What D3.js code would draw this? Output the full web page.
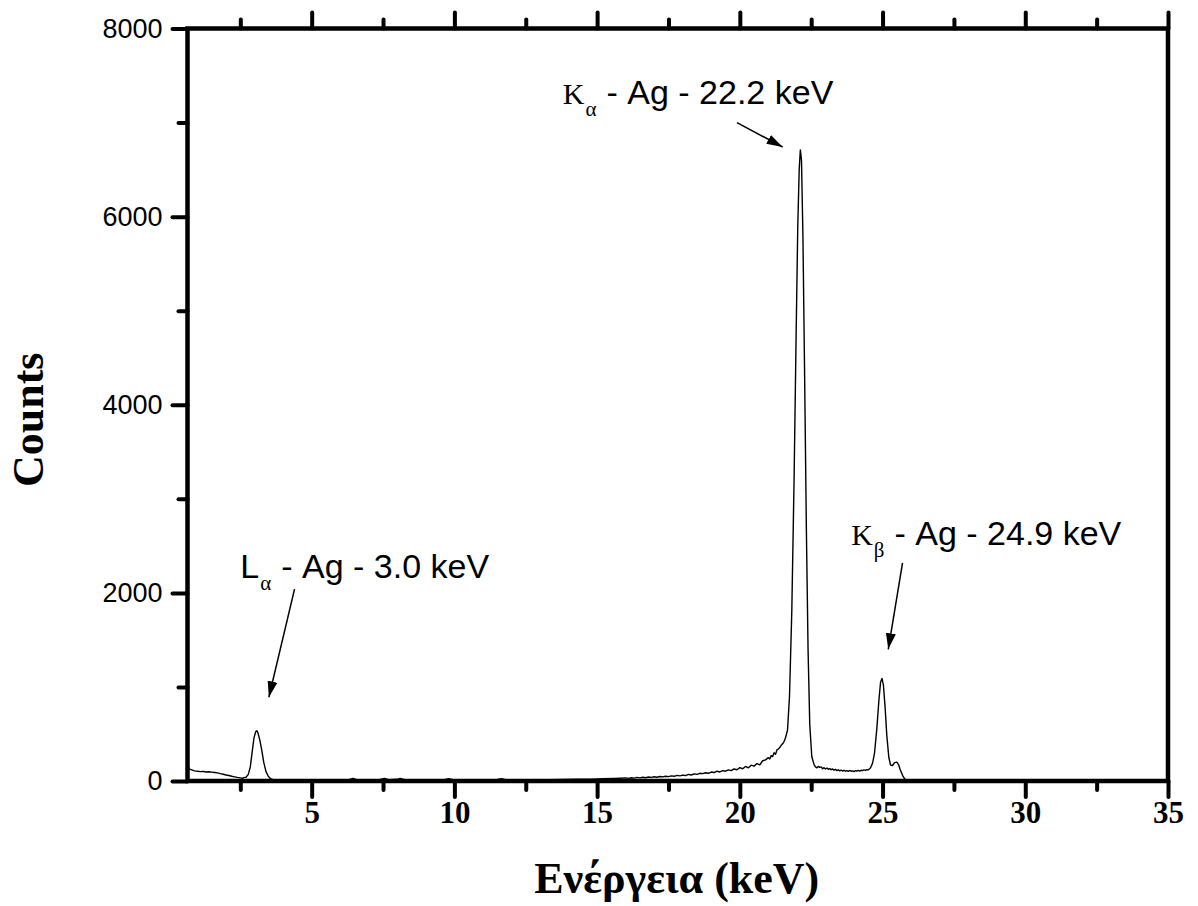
<!DOCTYPE html>
<html>
<head>
<meta charset="utf-8">
<script src="https://cdn.jsdelivr.net/npm/d3@7"></script>
<style>
  html, body { margin: 0; padding: 0; background: #ffffff; }
  svg { display: block; }
</style>
</head>
<body>
<svg id="chart" width="1198" height="906"></svg>
<script>
// XRF spectrum of silver: energy (keV) and detector counts, row by row
const energyKeV = [
  0.68, 0.7, 0.8, 0.9, 1.0, 1.1, 1.2, 1.3, 1.4, 1.5, 1.6, 1.7, 1.8, 1.9, 2.0, 2.1, 2.2, 2.3, 2.4, 2.5,
  2.58, 2.62, 2.7, 2.78, 2.85, 2.92, 2.98, 3.04, 3.08, 3.12, 3.18, 3.25, 3.32, 3.4, 3.48, 3.56, 3.65,
  3.8, 4.2, 4.6, 5.0, 5.5, 6.0, 6.3, 6.45, 6.6, 7.0, 7.4, 7.55, 7.7, 8.0, 8.1, 8.3, 8.7, 9.2, 9.6, 9.8,
  10.0, 10.5, 11.0, 11.5, 11.65, 11.8, 12.3, 12.8, 13.3, 13.8, 14.3, 14.8, 15.2, 15.6, 15.8,
  16.0, 16.1, 16.2, 16.3, 16.4, 16.5, 16.6, 16.7, 16.8, 16.9,
  17.0, 17.1, 17.2, 17.3, 17.4, 17.5, 17.6, 17.7, 17.8, 17.9,
  18.0, 18.1, 18.2, 18.3, 18.4, 18.5, 18.6, 18.7, 18.8, 18.9,
  19.0, 19.1, 19.2, 19.3, 19.4, 19.5, 19.6, 19.7, 19.8, 19.9,
  20.0, 20.1, 20.2, 20.3, 20.4, 20.5, 20.6, 20.7, 20.8, 20.9,
  21.0, 21.05, 21.1, 21.15, 21.2, 21.25, 21.3, 21.35, 21.4, 21.45, 21.5, 21.55, 21.6,
  21.67, 21.74, 21.82, 21.9, 21.97, 22.03, 22.08, 22.12, 22.16, 22.21, 22.27, 22.33, 22.39, 22.45, 22.52,
  22.6, 22.65, 22.7, 22.75, 22.8, 22.85, 22.9, 22.95, 23.0, 23.05, 23.1, 23.15, 23.2, 23.25, 23.3, 23.35, 23.4, 23.45, 23.5, 23.55,
  23.6, 23.65, 23.7, 23.75, 23.8, 23.85, 23.9, 23.95, 24.0, 24.05, 24.1, 24.15, 24.2, 24.25, 24.3, 24.35, 24.4, 24.45, 24.5,
  24.58, 24.65, 24.72, 24.8, 24.87, 24.93, 24.98, 25.03, 25.09, 25.15, 25.22, 25.28, 25.35, 25.42, 25.5, 25.56, 25.62, 25.7, 25.78, 25.85
];
const counts = [
  160, 128, 118, 108, 104, 100, 102, 96, 98, 94, 90, 86, 78, 72, 64, 58, 50, 44, 38, 33,
  28, 36, 40, 70, 150, 320, 460, 525, 535, 510, 440, 330, 200, 100, 50, 25, 14,
  12, 10, 9, 10, 9, 10, 13, 28, 12, 10, 16, 28, 13, 18, 27, 12, 10, 10, 12, 24,
  11, 10, 12, 17, 25, 13, 12, 13, 14, 16, 18, 20, 24, 28, 30,
  33, 28, 35, 31, 38, 33, 40, 35, 42, 38,
  45, 40, 48, 44, 50, 46, 55, 50, 60, 54,
  63, 58, 70, 64, 76, 70, 82, 78, 88, 82,
  95, 90, 104, 96, 110, 104, 118, 110, 128, 120,
  142, 130, 155, 140, 168, 158, 185, 172, 215, 225,
  248, 235, 270, 260, 300, 285, 330, 340, 355, 380, 395, 420, 460,
  540, 900, 1800, 3200, 4700, 5900, 6500, 6710, 6600, 5800, 4300, 2700, 1400, 600, 260,
  175, 150, 140, 155, 145, 150, 130, 142, 128, 138, 125, 132, 120, 128, 115, 124, 110, 120, 108, 116,
  106, 114, 104, 110, 102, 112, 104, 108, 100, 110, 104, 112, 106, 114, 110, 118, 112, 120, 118,
  140, 190, 300, 560, 850, 1050, 1090, 1020, 780, 480, 250, 170, 165, 195, 200, 175, 120, 60, 20, 0
];

// Axis ticks
const xMajorTicks = [5, 10, 15, 20, 25, 30, 35];
const xMinorTicks = [2.5, 7.5, 12.5, 17.5, 22.5, 27.5, 32.5];
const yMajorTicks = [0, 2000, 4000, 6000, 8000];
const yMinorTicks = [1000, 3000, 5000, 7000];

// Peak annotations: line letter, subscript, remaining text, label anchor and arrow (keV, counts)
const lineLetters = ["L", "K", "K"];
const lineSubscripts = ["\u03b1", "\u03b1", "\u03b2"];
const lineTexts = ["- Ag - 3.0 keV", "- Ag - 22.2 keV", "- Ag - 24.9 keV"];
const labelAnchors = [[2.5, 2160], [13.8, 7200], [23.9, 2510]];
const arrowStarts = [[4.4, 2040], [19.9, 7000], [25.7, 2320]];
const arrowEnds = [[3.5, 890], [21.5, 6740], [25.2, 1400]];

const svg = d3.select("#chart");

const x = d3.scaleLinear().domain([0.65, 35]).range([187.5, 1168]);
const y = d3.scaleLinear().domain([0, 8000]).range([781, 28.5]);

const serif = "'Liberation Serif', 'Times New Roman', serif";
const sans = "'Liberation Sans', Arial, sans-serif";

// Tick marks and labels
function styleAxis(g, fontFamily, fontSize, bold) {
  g.select(".domain").remove();
  g.selectAll(".tick line")
    .attr("stroke", "#000")
    .attr("stroke-width", 4)
    .attr("stroke-linecap", "round");
  g.selectAll(".tick text")
    .attr("fill", "#000")
    .style("font-family", fontFamily)
    .style("font-size", fontSize + "px")
    .style("font-weight", bold ? "bold" : "normal");
}

svg.append("g")
  .attr("transform", `translate(0,${y(0)})`)
  .call(d3.axisBottom(x).tickValues(xMajorTicks).tickSize(16).tickPadding(4).tickFormat(d3.format("d")))
  .call(g => styleAxis(g, serif, 31, true));

svg.append("g")
  .attr("transform", `translate(0,${y(0)})`)
  .call(d3.axisBottom(x).tickValues(xMinorTicks).tickSize(9).tickFormat(""))
  .call(g => styleAxis(g, serif, 31, true));

svg.append("g")
  .attr("transform", `translate(0,${y(8000)})`)
  .call(d3.axisTop(x).tickValues(xMajorTicks).tickSize(16).tickFormat(""))
  .call(g => styleAxis(g, serif, 31, true));

svg.append("g")
  .attr("transform", `translate(0,${y(8000)})`)
  .call(d3.axisTop(x).tickValues(xMinorTicks).tickSize(9).tickFormat(""))
  .call(g => styleAxis(g, serif, 31, true));

svg.append("g")
  .attr("transform", `translate(${x.range()[0]},0)`)
  .call(d3.axisLeft(y).tickValues(yMajorTicks).tickSize(15).tickPadding(10).tickFormat(d3.format("d")))
  .call(g => styleAxis(g, sans, 27, false));

svg.append("g")
  .attr("transform", `translate(${x.range()[0]},0)`)
  .call(d3.axisLeft(y).tickValues(yMinorTicks).tickSize(9).tickFormat(""))
  .call(g => styleAxis(g, sans, 27, false));

// Plot frame
const [x0, x1] = x.range();
const [yb, yt] = y.range();
svg.append("path")
  .attr("d", `M${x0},${yt}H${x1}V${yb}H${x0}Z`)
  .attr("fill", "none")
  .attr("stroke", "#000")
  .attr("stroke-width", 4.5)
  .attr("stroke-linejoin", "miter");

// Spectrum trace
const spectrum = energyKeV.map((e, i) => [e, counts[i]]);
svg.append("path")
  .datum(spectrum)
  .attr("fill", "none")
  .attr("stroke", "#000")
  .attr("stroke-width", 1.4)
  .attr("stroke-linejoin", "round")
  .attr("d", d3.line().x(d => x(d[0])).y(d => y(d[1])));

// Arrow marker
svg.append("defs").append("marker")
  .attr("id", "arrowhead")
  .attr("markerUnits", "userSpaceOnUse")
  .attr("viewBox", "0 0 16 12")
  .attr("refX", 16)
  .attr("refY", 6)
  .attr("markerWidth", 16)
  .attr("markerHeight", 12)
  .attr("orient", "auto")
  .append("path")
  .attr("d", "M0,1L16,6L0,11Z")
  .attr("fill", "#000");

// Peak annotations
lineLetters.forEach((letter, i) => {
  const t = svg.append("text")
    .attr("x", x(labelAnchors[i][0]))
    .attr("y", y(labelAnchors[i][1]))
    .attr("fill", "#000");
  t.append("tspan")
    .style("font-family", letter === "L" ? sans : serif)
    .style("font-size", letter === "L" ? "34px" : "30px")
    .text(letter);
  t.append("tspan")
    .attr("dx", 1)
    .attr("dy", 12)
    .style("font-family", serif)
    .style("font-size", "21px")
    .text(lineSubscripts[i]);
  t.append("tspan")
    .attr("dx", 10)
    .attr("dy", -12)
    .style("font-family", sans)
    .style("font-size", "34px")
    .text(lineTexts[i]);

  svg.append("line")
    .attr("x1", x(arrowStarts[i][0]))
    .attr("y1", y(arrowStarts[i][1]))
    .attr("x2", x(arrowEnds[i][0]))
    .attr("y2", y(arrowEnds[i][1]))
    .attr("stroke", "#000")
    .attr("stroke-width", 1.5)
    .attr("marker-end", "url(#arrowhead)");
});

// Axis titles
svg.append("text")
  .attr("x", (x0 + x1) / 2 - 1)
  .attr("y", 893)
  .attr("text-anchor", "middle")
  .style("font-family", serif)
  .style("font-weight", "bold")
  .style("font-size", "44px")
  .text("Ενέργεια (keV)");

svg.append("text")
  .attr("transform", `translate(43,${(yb + yt) / 2 + 15}) rotate(-90)`)
  .attr("text-anchor", "middle")
  .style("font-family", serif)
  .style("font-weight", "bold")
  .style("font-size", "44px")
  .text("Counts");
</script>
</body>
</html>
